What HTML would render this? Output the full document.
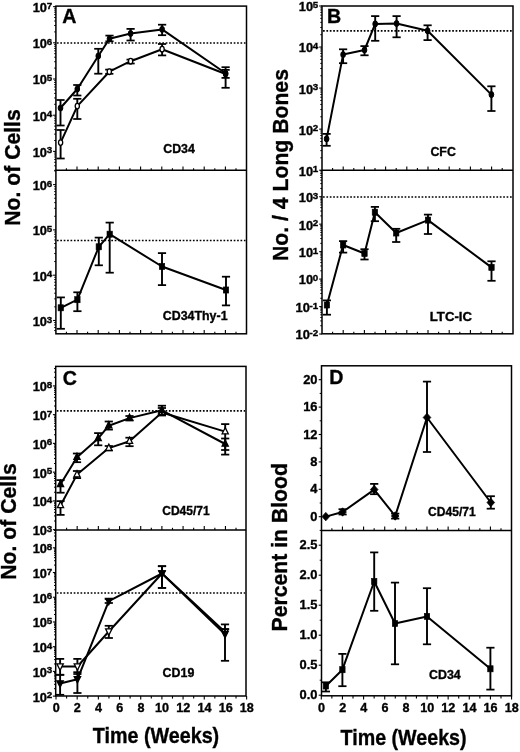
<!DOCTYPE html>
<html><head><meta charset="utf-8"><style>
html,body{margin:0;padding:0;background:#fff;overflow:hidden;}
svg{display:block;will-change:transform;}
text{font-family:"Liberation Sans", sans-serif;fill:#000;}
</style></head><body>
<svg width="520" height="752" viewBox="0 0 520 752" stroke="#000" fill="none">
<g fill="#000" stroke="#000">
<rect x="55.90" y="6.10" width="190.60" height="327.70" fill="none" stroke-width="1.5"/>
<line x1="55.90" y1="170.30" x2="246.50" y2="170.30" stroke-width="1.5" />
<line x1="66.40" y1="170.30" x2="66.40" y2="168.20" stroke-width="1.1" />
<line x1="77.00" y1="170.30" x2="77.00" y2="166.50" stroke-width="1.1" />
<line x1="87.60" y1="170.30" x2="87.60" y2="168.20" stroke-width="1.1" />
<line x1="98.20" y1="170.30" x2="98.20" y2="166.50" stroke-width="1.1" />
<line x1="108.80" y1="170.30" x2="108.80" y2="168.20" stroke-width="1.1" />
<line x1="119.40" y1="170.30" x2="119.40" y2="166.50" stroke-width="1.1" />
<line x1="130.00" y1="170.30" x2="130.00" y2="168.20" stroke-width="1.1" />
<line x1="140.60" y1="170.30" x2="140.60" y2="166.50" stroke-width="1.1" />
<line x1="151.20" y1="170.30" x2="151.20" y2="168.20" stroke-width="1.1" />
<line x1="161.80" y1="170.30" x2="161.80" y2="166.50" stroke-width="1.1" />
<line x1="172.40" y1="170.30" x2="172.40" y2="168.20" stroke-width="1.1" />
<line x1="183.00" y1="170.30" x2="183.00" y2="166.50" stroke-width="1.1" />
<line x1="193.60" y1="170.30" x2="193.60" y2="168.20" stroke-width="1.1" />
<line x1="204.20" y1="170.30" x2="204.20" y2="166.50" stroke-width="1.1" />
<line x1="214.80" y1="170.30" x2="214.80" y2="168.20" stroke-width="1.1" />
<line x1="225.40" y1="170.30" x2="225.40" y2="166.50" stroke-width="1.1" />
<line x1="236.00" y1="170.30" x2="236.00" y2="168.20" stroke-width="1.1" />
<line x1="66.40" y1="333.80" x2="66.40" y2="331.70" stroke-width="1.1" />
<line x1="77.00" y1="333.80" x2="77.00" y2="330.00" stroke-width="1.1" />
<line x1="87.60" y1="333.80" x2="87.60" y2="331.70" stroke-width="1.1" />
<line x1="98.20" y1="333.80" x2="98.20" y2="330.00" stroke-width="1.1" />
<line x1="108.80" y1="333.80" x2="108.80" y2="331.70" stroke-width="1.1" />
<line x1="119.40" y1="333.80" x2="119.40" y2="330.00" stroke-width="1.1" />
<line x1="130.00" y1="333.80" x2="130.00" y2="331.70" stroke-width="1.1" />
<line x1="140.60" y1="333.80" x2="140.60" y2="330.00" stroke-width="1.1" />
<line x1="151.20" y1="333.80" x2="151.20" y2="331.70" stroke-width="1.1" />
<line x1="161.80" y1="333.80" x2="161.80" y2="330.00" stroke-width="1.1" />
<line x1="172.40" y1="333.80" x2="172.40" y2="331.70" stroke-width="1.1" />
<line x1="183.00" y1="333.80" x2="183.00" y2="330.00" stroke-width="1.1" />
<line x1="193.60" y1="333.80" x2="193.60" y2="331.70" stroke-width="1.1" />
<line x1="204.20" y1="333.80" x2="204.20" y2="330.00" stroke-width="1.1" />
<line x1="214.80" y1="333.80" x2="214.80" y2="331.70" stroke-width="1.1" />
<line x1="225.40" y1="333.80" x2="225.40" y2="330.00" stroke-width="1.1" />
<line x1="236.00" y1="333.80" x2="236.00" y2="331.70" stroke-width="1.1" />
<line x1="54.20" y1="170.33" x2="55.90" y2="170.33" stroke-width="1.0" />
<line x1="54.20" y1="165.81" x2="55.90" y2="165.81" stroke-width="1.0" />
<line x1="54.20" y1="162.30" x2="55.90" y2="162.30" stroke-width="1.0" />
<line x1="54.20" y1="159.43" x2="55.90" y2="159.43" stroke-width="1.0" />
<line x1="54.20" y1="157.01" x2="55.90" y2="157.01" stroke-width="1.0" />
<line x1="54.20" y1="154.91" x2="55.90" y2="154.91" stroke-width="1.0" />
<line x1="54.20" y1="153.06" x2="55.90" y2="153.06" stroke-width="1.0" />
<line x1="53.10" y1="151.40" x2="55.90" y2="151.40" stroke-width="1.1" />
<line x1="54.20" y1="140.50" x2="55.90" y2="140.50" stroke-width="1.0" />
<line x1="54.20" y1="134.13" x2="55.90" y2="134.13" stroke-width="1.0" />
<line x1="54.20" y1="129.61" x2="55.90" y2="129.61" stroke-width="1.0" />
<line x1="54.20" y1="126.10" x2="55.90" y2="126.10" stroke-width="1.0" />
<line x1="54.20" y1="123.23" x2="55.90" y2="123.23" stroke-width="1.0" />
<line x1="54.20" y1="120.81" x2="55.90" y2="120.81" stroke-width="1.0" />
<line x1="54.20" y1="118.71" x2="55.90" y2="118.71" stroke-width="1.0" />
<line x1="54.20" y1="116.86" x2="55.90" y2="116.86" stroke-width="1.0" />
<line x1="53.10" y1="115.20" x2="55.90" y2="115.20" stroke-width="1.1" />
<line x1="54.20" y1="104.30" x2="55.90" y2="104.30" stroke-width="1.0" />
<line x1="54.20" y1="97.93" x2="55.90" y2="97.93" stroke-width="1.0" />
<line x1="54.20" y1="93.41" x2="55.90" y2="93.41" stroke-width="1.0" />
<line x1="54.20" y1="89.90" x2="55.90" y2="89.90" stroke-width="1.0" />
<line x1="54.20" y1="87.03" x2="55.90" y2="87.03" stroke-width="1.0" />
<line x1="54.20" y1="84.61" x2="55.90" y2="84.61" stroke-width="1.0" />
<line x1="54.20" y1="82.51" x2="55.90" y2="82.51" stroke-width="1.0" />
<line x1="54.20" y1="80.66" x2="55.90" y2="80.66" stroke-width="1.0" />
<line x1="53.10" y1="79.00" x2="55.90" y2="79.00" stroke-width="1.1" />
<line x1="54.20" y1="68.10" x2="55.90" y2="68.10" stroke-width="1.0" />
<line x1="54.20" y1="61.73" x2="55.90" y2="61.73" stroke-width="1.0" />
<line x1="54.20" y1="57.21" x2="55.90" y2="57.21" stroke-width="1.0" />
<line x1="54.20" y1="53.70" x2="55.90" y2="53.70" stroke-width="1.0" />
<line x1="54.20" y1="50.83" x2="55.90" y2="50.83" stroke-width="1.0" />
<line x1="54.20" y1="48.41" x2="55.90" y2="48.41" stroke-width="1.0" />
<line x1="54.20" y1="46.31" x2="55.90" y2="46.31" stroke-width="1.0" />
<line x1="54.20" y1="44.46" x2="55.90" y2="44.46" stroke-width="1.0" />
<line x1="53.10" y1="42.80" x2="55.90" y2="42.80" stroke-width="1.1" />
<line x1="54.20" y1="31.90" x2="55.90" y2="31.90" stroke-width="1.0" />
<line x1="54.20" y1="25.53" x2="55.90" y2="25.53" stroke-width="1.0" />
<line x1="54.20" y1="21.01" x2="55.90" y2="21.01" stroke-width="1.0" />
<line x1="54.20" y1="17.50" x2="55.90" y2="17.50" stroke-width="1.0" />
<line x1="54.20" y1="14.63" x2="55.90" y2="14.63" stroke-width="1.0" />
<line x1="54.20" y1="12.21" x2="55.90" y2="12.21" stroke-width="1.0" />
<line x1="54.20" y1="10.11" x2="55.90" y2="10.11" stroke-width="1.0" />
<line x1="54.20" y1="8.26" x2="55.90" y2="8.26" stroke-width="1.0" />
<line x1="53.10" y1="6.60" x2="55.90" y2="6.60" stroke-width="1.1" />
<line x1="54.20" y1="330.55" x2="55.90" y2="330.55" stroke-width="1.0" />
<line x1="54.20" y1="327.52" x2="55.90" y2="327.52" stroke-width="1.0" />
<line x1="54.20" y1="324.89" x2="55.90" y2="324.89" stroke-width="1.0" />
<line x1="54.20" y1="322.57" x2="55.90" y2="322.57" stroke-width="1.0" />
<line x1="53.10" y1="320.50" x2="55.90" y2="320.50" stroke-width="1.1" />
<line x1="54.20" y1="306.86" x2="55.90" y2="306.86" stroke-width="1.0" />
<line x1="54.20" y1="298.89" x2="55.90" y2="298.89" stroke-width="1.0" />
<line x1="54.20" y1="293.23" x2="55.90" y2="293.23" stroke-width="1.0" />
<line x1="54.20" y1="288.84" x2="55.90" y2="288.84" stroke-width="1.0" />
<line x1="54.20" y1="285.25" x2="55.90" y2="285.25" stroke-width="1.0" />
<line x1="54.20" y1="282.22" x2="55.90" y2="282.22" stroke-width="1.0" />
<line x1="54.20" y1="279.59" x2="55.90" y2="279.59" stroke-width="1.0" />
<line x1="54.20" y1="277.27" x2="55.90" y2="277.27" stroke-width="1.0" />
<line x1="53.10" y1="275.20" x2="55.90" y2="275.20" stroke-width="1.1" />
<line x1="54.20" y1="261.56" x2="55.90" y2="261.56" stroke-width="1.0" />
<line x1="54.20" y1="253.59" x2="55.90" y2="253.59" stroke-width="1.0" />
<line x1="54.20" y1="247.93" x2="55.90" y2="247.93" stroke-width="1.0" />
<line x1="54.20" y1="243.54" x2="55.90" y2="243.54" stroke-width="1.0" />
<line x1="54.20" y1="239.95" x2="55.90" y2="239.95" stroke-width="1.0" />
<line x1="54.20" y1="236.92" x2="55.90" y2="236.92" stroke-width="1.0" />
<line x1="54.20" y1="234.29" x2="55.90" y2="234.29" stroke-width="1.0" />
<line x1="54.20" y1="231.97" x2="55.90" y2="231.97" stroke-width="1.0" />
<line x1="53.10" y1="229.90" x2="55.90" y2="229.90" stroke-width="1.1" />
<line x1="54.20" y1="216.26" x2="55.90" y2="216.26" stroke-width="1.0" />
<line x1="54.20" y1="208.29" x2="55.90" y2="208.29" stroke-width="1.0" />
<line x1="54.20" y1="202.63" x2="55.90" y2="202.63" stroke-width="1.0" />
<line x1="54.20" y1="198.24" x2="55.90" y2="198.24" stroke-width="1.0" />
<line x1="54.20" y1="194.65" x2="55.90" y2="194.65" stroke-width="1.0" />
<line x1="54.20" y1="191.62" x2="55.90" y2="191.62" stroke-width="1.0" />
<line x1="54.20" y1="188.99" x2="55.90" y2="188.99" stroke-width="1.0" />
<line x1="54.20" y1="186.67" x2="55.90" y2="186.67" stroke-width="1.0" />
<line x1="53.10" y1="184.60" x2="55.90" y2="184.60" stroke-width="1.1" />
<line x1="54.20" y1="170.96" x2="55.90" y2="170.96" stroke-width="1.0" />
<text stroke="#000" stroke-width="0.35" x="52.20" y="153.41" font-size="9.8" text-anchor="end" font-weight="bold" >3</text>
<text stroke="#000" stroke-width="0.35" x="46.95" y="156.81" font-size="12.8" text-anchor="end" font-weight="bold" >10</text>
<text stroke="#000" stroke-width="0.35" x="52.20" y="117.21" font-size="9.8" text-anchor="end" font-weight="bold" >4</text>
<text stroke="#000" stroke-width="0.35" x="46.95" y="120.61" font-size="12.8" text-anchor="end" font-weight="bold" >10</text>
<text stroke="#000" stroke-width="0.35" x="52.20" y="81.01" font-size="9.8" text-anchor="end" font-weight="bold" >5</text>
<text stroke="#000" stroke-width="0.35" x="46.95" y="84.41" font-size="12.8" text-anchor="end" font-weight="bold" >10</text>
<text stroke="#000" stroke-width="0.35" x="52.20" y="44.81" font-size="9.8" text-anchor="end" font-weight="bold" >6</text>
<text stroke="#000" stroke-width="0.35" x="46.95" y="48.21" font-size="12.8" text-anchor="end" font-weight="bold" >10</text>
<text stroke="#000" stroke-width="0.35" x="52.20" y="8.61" font-size="9.8" text-anchor="end" font-weight="bold" >7</text>
<text stroke="#000" stroke-width="0.35" x="46.95" y="12.01" font-size="12.8" text-anchor="end" font-weight="bold" >10</text>
<text stroke="#000" stroke-width="0.35" x="52.20" y="322.51" font-size="9.8" text-anchor="end" font-weight="bold" >3</text>
<text stroke="#000" stroke-width="0.35" x="46.95" y="325.91" font-size="12.8" text-anchor="end" font-weight="bold" >10</text>
<text stroke="#000" stroke-width="0.35" x="52.20" y="277.21" font-size="9.8" text-anchor="end" font-weight="bold" >4</text>
<text stroke="#000" stroke-width="0.35" x="46.95" y="280.61" font-size="12.8" text-anchor="end" font-weight="bold" >10</text>
<text stroke="#000" stroke-width="0.35" x="52.20" y="231.91" font-size="9.8" text-anchor="end" font-weight="bold" >5</text>
<text stroke="#000" stroke-width="0.35" x="46.95" y="235.31" font-size="12.8" text-anchor="end" font-weight="bold" >10</text>
<text stroke="#000" stroke-width="0.35" x="52.20" y="186.61" font-size="9.8" text-anchor="end" font-weight="bold" >6</text>
<text stroke="#000" stroke-width="0.35" x="46.95" y="190.01" font-size="12.8" text-anchor="end" font-weight="bold" >10</text>
<line x1="56.90" y1="43.00" x2="245.50" y2="43.00" stroke-width="1.7" stroke-dasharray="1.7 1.7"/>
<line x1="56.90" y1="240.50" x2="245.50" y2="240.50" stroke-width="1.7" stroke-dasharray="1.7 1.7"/>
<rect x="322.00" y="6.00" width="191.00" height="327.80" fill="none" stroke-width="1.5"/>
<line x1="322.00" y1="170.20" x2="513.00" y2="170.20" stroke-width="1.5" />
<line x1="332.60" y1="170.20" x2="332.60" y2="168.10" stroke-width="1.1" />
<line x1="343.20" y1="170.20" x2="343.20" y2="166.40" stroke-width="1.1" />
<line x1="353.80" y1="170.20" x2="353.80" y2="168.10" stroke-width="1.1" />
<line x1="364.40" y1="170.20" x2="364.40" y2="166.40" stroke-width="1.1" />
<line x1="375.00" y1="170.20" x2="375.00" y2="168.10" stroke-width="1.1" />
<line x1="385.60" y1="170.20" x2="385.60" y2="166.40" stroke-width="1.1" />
<line x1="396.20" y1="170.20" x2="396.20" y2="168.10" stroke-width="1.1" />
<line x1="406.80" y1="170.20" x2="406.80" y2="166.40" stroke-width="1.1" />
<line x1="417.40" y1="170.20" x2="417.40" y2="168.10" stroke-width="1.1" />
<line x1="428.00" y1="170.20" x2="428.00" y2="166.40" stroke-width="1.1" />
<line x1="438.60" y1="170.20" x2="438.60" y2="168.10" stroke-width="1.1" />
<line x1="449.20" y1="170.20" x2="449.20" y2="166.40" stroke-width="1.1" />
<line x1="459.80" y1="170.20" x2="459.80" y2="168.10" stroke-width="1.1" />
<line x1="470.40" y1="170.20" x2="470.40" y2="166.40" stroke-width="1.1" />
<line x1="481.00" y1="170.20" x2="481.00" y2="168.10" stroke-width="1.1" />
<line x1="491.60" y1="170.20" x2="491.60" y2="166.40" stroke-width="1.1" />
<line x1="502.20" y1="170.20" x2="502.20" y2="168.10" stroke-width="1.1" />
<line x1="332.60" y1="333.80" x2="332.60" y2="331.70" stroke-width="1.1" />
<line x1="343.20" y1="333.80" x2="343.20" y2="330.00" stroke-width="1.1" />
<line x1="353.80" y1="333.80" x2="353.80" y2="331.70" stroke-width="1.1" />
<line x1="364.40" y1="333.80" x2="364.40" y2="330.00" stroke-width="1.1" />
<line x1="375.00" y1="333.80" x2="375.00" y2="331.70" stroke-width="1.1" />
<line x1="385.60" y1="333.80" x2="385.60" y2="330.00" stroke-width="1.1" />
<line x1="396.20" y1="333.80" x2="396.20" y2="331.70" stroke-width="1.1" />
<line x1="406.80" y1="333.80" x2="406.80" y2="330.00" stroke-width="1.1" />
<line x1="417.40" y1="333.80" x2="417.40" y2="331.70" stroke-width="1.1" />
<line x1="428.00" y1="333.80" x2="428.00" y2="330.00" stroke-width="1.1" />
<line x1="438.60" y1="333.80" x2="438.60" y2="331.70" stroke-width="1.1" />
<line x1="449.20" y1="333.80" x2="449.20" y2="330.00" stroke-width="1.1" />
<line x1="459.80" y1="333.80" x2="459.80" y2="331.70" stroke-width="1.1" />
<line x1="470.40" y1="333.80" x2="470.40" y2="330.00" stroke-width="1.1" />
<line x1="481.00" y1="333.80" x2="481.00" y2="331.70" stroke-width="1.1" />
<line x1="491.60" y1="333.80" x2="491.60" y2="330.00" stroke-width="1.1" />
<line x1="502.20" y1="333.80" x2="502.20" y2="331.70" stroke-width="1.1" />
<line x1="319.20" y1="170.20" x2="322.00" y2="170.20" stroke-width="1.1" />
<line x1="320.30" y1="157.84" x2="322.00" y2="157.84" stroke-width="1.0" />
<line x1="320.30" y1="150.61" x2="322.00" y2="150.61" stroke-width="1.0" />
<line x1="320.30" y1="145.49" x2="322.00" y2="145.49" stroke-width="1.0" />
<line x1="320.30" y1="141.51" x2="322.00" y2="141.51" stroke-width="1.0" />
<line x1="320.30" y1="138.26" x2="322.00" y2="138.26" stroke-width="1.0" />
<line x1="320.30" y1="135.51" x2="322.00" y2="135.51" stroke-width="1.0" />
<line x1="320.30" y1="133.13" x2="322.00" y2="133.13" stroke-width="1.0" />
<line x1="320.30" y1="131.03" x2="322.00" y2="131.03" stroke-width="1.0" />
<line x1="319.20" y1="129.15" x2="322.00" y2="129.15" stroke-width="1.1" />
<line x1="320.30" y1="116.79" x2="322.00" y2="116.79" stroke-width="1.0" />
<line x1="320.30" y1="109.56" x2="322.00" y2="109.56" stroke-width="1.0" />
<line x1="320.30" y1="104.44" x2="322.00" y2="104.44" stroke-width="1.0" />
<line x1="320.30" y1="100.46" x2="322.00" y2="100.46" stroke-width="1.0" />
<line x1="320.30" y1="97.21" x2="322.00" y2="97.21" stroke-width="1.0" />
<line x1="320.30" y1="94.46" x2="322.00" y2="94.46" stroke-width="1.0" />
<line x1="320.30" y1="92.08" x2="322.00" y2="92.08" stroke-width="1.0" />
<line x1="320.30" y1="89.98" x2="322.00" y2="89.98" stroke-width="1.0" />
<line x1="319.20" y1="88.10" x2="322.00" y2="88.10" stroke-width="1.1" />
<line x1="320.30" y1="75.74" x2="322.00" y2="75.74" stroke-width="1.0" />
<line x1="320.30" y1="68.51" x2="322.00" y2="68.51" stroke-width="1.0" />
<line x1="320.30" y1="63.39" x2="322.00" y2="63.39" stroke-width="1.0" />
<line x1="320.30" y1="59.41" x2="322.00" y2="59.41" stroke-width="1.0" />
<line x1="320.30" y1="56.16" x2="322.00" y2="56.16" stroke-width="1.0" />
<line x1="320.30" y1="53.41" x2="322.00" y2="53.41" stroke-width="1.0" />
<line x1="320.30" y1="51.03" x2="322.00" y2="51.03" stroke-width="1.0" />
<line x1="320.30" y1="48.93" x2="322.00" y2="48.93" stroke-width="1.0" />
<line x1="319.20" y1="47.05" x2="322.00" y2="47.05" stroke-width="1.1" />
<line x1="320.30" y1="34.69" x2="322.00" y2="34.69" stroke-width="1.0" />
<line x1="320.30" y1="27.46" x2="322.00" y2="27.46" stroke-width="1.0" />
<line x1="320.30" y1="22.34" x2="322.00" y2="22.34" stroke-width="1.0" />
<line x1="320.30" y1="18.36" x2="322.00" y2="18.36" stroke-width="1.0" />
<line x1="320.30" y1="15.11" x2="322.00" y2="15.11" stroke-width="1.0" />
<line x1="320.30" y1="12.36" x2="322.00" y2="12.36" stroke-width="1.0" />
<line x1="320.30" y1="9.98" x2="322.00" y2="9.98" stroke-width="1.0" />
<line x1="320.30" y1="7.88" x2="322.00" y2="7.88" stroke-width="1.0" />
<line x1="319.20" y1="6.00" x2="322.00" y2="6.00" stroke-width="1.1" />
<line x1="319.20" y1="334.00" x2="322.00" y2="334.00" stroke-width="1.1" />
<line x1="320.30" y1="325.73" x2="322.00" y2="325.73" stroke-width="1.0" />
<line x1="320.30" y1="320.90" x2="322.00" y2="320.90" stroke-width="1.0" />
<line x1="320.30" y1="317.47" x2="322.00" y2="317.47" stroke-width="1.0" />
<line x1="320.30" y1="314.81" x2="322.00" y2="314.81" stroke-width="1.0" />
<line x1="320.30" y1="312.63" x2="322.00" y2="312.63" stroke-width="1.0" />
<line x1="320.30" y1="310.79" x2="322.00" y2="310.79" stroke-width="1.0" />
<line x1="320.30" y1="309.20" x2="322.00" y2="309.20" stroke-width="1.0" />
<line x1="320.30" y1="307.80" x2="322.00" y2="307.80" stroke-width="1.0" />
<line x1="319.20" y1="306.54" x2="322.00" y2="306.54" stroke-width="1.1" />
<line x1="320.30" y1="298.27" x2="322.00" y2="298.27" stroke-width="1.0" />
<line x1="320.30" y1="293.44" x2="322.00" y2="293.44" stroke-width="1.0" />
<line x1="320.30" y1="290.01" x2="322.00" y2="290.01" stroke-width="1.0" />
<line x1="320.30" y1="287.35" x2="322.00" y2="287.35" stroke-width="1.0" />
<line x1="320.30" y1="285.17" x2="322.00" y2="285.17" stroke-width="1.0" />
<line x1="320.30" y1="283.33" x2="322.00" y2="283.33" stroke-width="1.0" />
<line x1="320.30" y1="281.74" x2="322.00" y2="281.74" stroke-width="1.0" />
<line x1="320.30" y1="280.34" x2="322.00" y2="280.34" stroke-width="1.0" />
<line x1="319.20" y1="279.08" x2="322.00" y2="279.08" stroke-width="1.1" />
<line x1="320.30" y1="270.81" x2="322.00" y2="270.81" stroke-width="1.0" />
<line x1="320.30" y1="265.98" x2="322.00" y2="265.98" stroke-width="1.0" />
<line x1="320.30" y1="262.55" x2="322.00" y2="262.55" stroke-width="1.0" />
<line x1="320.30" y1="259.89" x2="322.00" y2="259.89" stroke-width="1.0" />
<line x1="320.30" y1="257.71" x2="322.00" y2="257.71" stroke-width="1.0" />
<line x1="320.30" y1="255.87" x2="322.00" y2="255.87" stroke-width="1.0" />
<line x1="320.30" y1="254.28" x2="322.00" y2="254.28" stroke-width="1.0" />
<line x1="320.30" y1="252.88" x2="322.00" y2="252.88" stroke-width="1.0" />
<line x1="319.20" y1="251.62" x2="322.00" y2="251.62" stroke-width="1.1" />
<line x1="320.30" y1="243.35" x2="322.00" y2="243.35" stroke-width="1.0" />
<line x1="320.30" y1="238.52" x2="322.00" y2="238.52" stroke-width="1.0" />
<line x1="320.30" y1="235.09" x2="322.00" y2="235.09" stroke-width="1.0" />
<line x1="320.30" y1="232.43" x2="322.00" y2="232.43" stroke-width="1.0" />
<line x1="320.30" y1="230.25" x2="322.00" y2="230.25" stroke-width="1.0" />
<line x1="320.30" y1="228.41" x2="322.00" y2="228.41" stroke-width="1.0" />
<line x1="320.30" y1="226.82" x2="322.00" y2="226.82" stroke-width="1.0" />
<line x1="320.30" y1="225.42" x2="322.00" y2="225.42" stroke-width="1.0" />
<line x1="319.20" y1="224.16" x2="322.00" y2="224.16" stroke-width="1.1" />
<line x1="320.30" y1="215.89" x2="322.00" y2="215.89" stroke-width="1.0" />
<line x1="320.30" y1="211.06" x2="322.00" y2="211.06" stroke-width="1.0" />
<line x1="320.30" y1="207.63" x2="322.00" y2="207.63" stroke-width="1.0" />
<line x1="320.30" y1="204.97" x2="322.00" y2="204.97" stroke-width="1.0" />
<line x1="320.30" y1="202.79" x2="322.00" y2="202.79" stroke-width="1.0" />
<line x1="320.30" y1="200.95" x2="322.00" y2="200.95" stroke-width="1.0" />
<line x1="320.30" y1="199.36" x2="322.00" y2="199.36" stroke-width="1.0" />
<line x1="320.30" y1="197.96" x2="322.00" y2="197.96" stroke-width="1.0" />
<line x1="319.20" y1="196.70" x2="322.00" y2="196.70" stroke-width="1.1" />
<line x1="320.30" y1="188.43" x2="322.00" y2="188.43" stroke-width="1.0" />
<line x1="320.30" y1="183.60" x2="322.00" y2="183.60" stroke-width="1.0" />
<line x1="320.30" y1="180.17" x2="322.00" y2="180.17" stroke-width="1.0" />
<line x1="320.30" y1="177.51" x2="322.00" y2="177.51" stroke-width="1.0" />
<line x1="320.30" y1="175.33" x2="322.00" y2="175.33" stroke-width="1.0" />
<line x1="320.30" y1="173.49" x2="322.00" y2="173.49" stroke-width="1.0" />
<line x1="320.30" y1="171.90" x2="322.00" y2="171.90" stroke-width="1.0" />
<line x1="320.30" y1="170.50" x2="322.00" y2="170.50" stroke-width="1.0" />
<text stroke="#000" stroke-width="0.35" x="318.30" y="172.21" font-size="9.8" text-anchor="end" font-weight="bold" >1</text>
<text stroke="#000" stroke-width="0.35" x="313.05" y="175.61" font-size="12.8" text-anchor="end" font-weight="bold" >10</text>
<text stroke="#000" stroke-width="0.35" x="318.30" y="131.16" font-size="9.8" text-anchor="end" font-weight="bold" >2</text>
<text stroke="#000" stroke-width="0.35" x="313.05" y="134.56" font-size="12.8" text-anchor="end" font-weight="bold" >10</text>
<text stroke="#000" stroke-width="0.35" x="318.30" y="90.11" font-size="9.8" text-anchor="end" font-weight="bold" >3</text>
<text stroke="#000" stroke-width="0.35" x="313.05" y="93.51" font-size="12.8" text-anchor="end" font-weight="bold" >10</text>
<text stroke="#000" stroke-width="0.35" x="318.30" y="49.06" font-size="9.8" text-anchor="end" font-weight="bold" >4</text>
<text stroke="#000" stroke-width="0.35" x="313.05" y="52.46" font-size="12.8" text-anchor="end" font-weight="bold" >10</text>
<text stroke="#000" stroke-width="0.35" x="318.30" y="8.01" font-size="9.8" text-anchor="end" font-weight="bold" >5</text>
<text stroke="#000" stroke-width="0.35" x="313.05" y="11.41" font-size="12.8" text-anchor="end" font-weight="bold" >10</text>
<text stroke="#000" stroke-width="0.35" x="318.30" y="336.01" font-size="9.8" text-anchor="end" font-weight="bold" >-2</text>
<text stroke="#000" stroke-width="0.35" x="309.79" y="339.41" font-size="12.8" text-anchor="end" font-weight="bold" >10</text>
<text stroke="#000" stroke-width="0.35" x="318.30" y="308.55" font-size="9.8" text-anchor="end" font-weight="bold" >-1</text>
<text stroke="#000" stroke-width="0.35" x="309.79" y="311.95" font-size="12.8" text-anchor="end" font-weight="bold" >10</text>
<text stroke="#000" stroke-width="0.35" x="318.30" y="281.09" font-size="9.8" text-anchor="end" font-weight="bold" >0</text>
<text stroke="#000" stroke-width="0.35" x="313.05" y="284.49" font-size="12.8" text-anchor="end" font-weight="bold" >10</text>
<text stroke="#000" stroke-width="0.35" x="318.30" y="253.63" font-size="9.8" text-anchor="end" font-weight="bold" >1</text>
<text stroke="#000" stroke-width="0.35" x="313.05" y="257.03" font-size="12.8" text-anchor="end" font-weight="bold" >10</text>
<text stroke="#000" stroke-width="0.35" x="318.30" y="226.17" font-size="9.8" text-anchor="end" font-weight="bold" >2</text>
<text stroke="#000" stroke-width="0.35" x="313.05" y="229.57" font-size="12.8" text-anchor="end" font-weight="bold" >10</text>
<text stroke="#000" stroke-width="0.35" x="318.30" y="198.71" font-size="9.8" text-anchor="end" font-weight="bold" >3</text>
<text stroke="#000" stroke-width="0.35" x="313.05" y="202.11" font-size="12.8" text-anchor="end" font-weight="bold" >10</text>
<line x1="323.00" y1="30.90" x2="512.00" y2="30.90" stroke-width="1.7" stroke-dasharray="1.7 1.7"/>
<line x1="323.00" y1="197.00" x2="512.00" y2="197.00" stroke-width="1.7" stroke-dasharray="1.7 1.7"/>
<rect x="55.70" y="366.40" width="190.30" height="329.60" fill="none" stroke-width="1.5"/>
<line x1="55.70" y1="529.90" x2="246.00" y2="529.90" stroke-width="1.5" />
<line x1="66.59" y1="529.90" x2="66.59" y2="527.80" stroke-width="1.1" />
<line x1="77.18" y1="529.90" x2="77.18" y2="526.10" stroke-width="1.1" />
<line x1="87.77" y1="529.90" x2="87.77" y2="527.80" stroke-width="1.1" />
<line x1="98.36" y1="529.90" x2="98.36" y2="526.10" stroke-width="1.1" />
<line x1="108.95" y1="529.90" x2="108.95" y2="527.80" stroke-width="1.1" />
<line x1="119.54" y1="529.90" x2="119.54" y2="526.10" stroke-width="1.1" />
<line x1="130.13" y1="529.90" x2="130.13" y2="527.80" stroke-width="1.1" />
<line x1="140.72" y1="529.90" x2="140.72" y2="526.10" stroke-width="1.1" />
<line x1="151.31" y1="529.90" x2="151.31" y2="527.80" stroke-width="1.1" />
<line x1="161.90" y1="529.90" x2="161.90" y2="526.10" stroke-width="1.1" />
<line x1="172.49" y1="529.90" x2="172.49" y2="527.80" stroke-width="1.1" />
<line x1="183.08" y1="529.90" x2="183.08" y2="526.10" stroke-width="1.1" />
<line x1="193.67" y1="529.90" x2="193.67" y2="527.80" stroke-width="1.1" />
<line x1="204.26" y1="529.90" x2="204.26" y2="526.10" stroke-width="1.1" />
<line x1="214.85" y1="529.90" x2="214.85" y2="527.80" stroke-width="1.1" />
<line x1="225.44" y1="529.90" x2="225.44" y2="526.10" stroke-width="1.1" />
<line x1="236.03" y1="529.90" x2="236.03" y2="527.80" stroke-width="1.1" />
<line x1="56.00" y1="696.00" x2="56.00" y2="699.60" stroke-width="1.1" />
<line x1="66.59" y1="696.00" x2="66.59" y2="698.60" stroke-width="1.1" />
<line x1="77.18" y1="696.00" x2="77.18" y2="699.60" stroke-width="1.1" />
<line x1="87.77" y1="696.00" x2="87.77" y2="698.60" stroke-width="1.1" />
<line x1="98.36" y1="696.00" x2="98.36" y2="699.60" stroke-width="1.1" />
<line x1="108.95" y1="696.00" x2="108.95" y2="698.60" stroke-width="1.1" />
<line x1="119.54" y1="696.00" x2="119.54" y2="699.60" stroke-width="1.1" />
<line x1="130.13" y1="696.00" x2="130.13" y2="698.60" stroke-width="1.1" />
<line x1="140.72" y1="696.00" x2="140.72" y2="699.60" stroke-width="1.1" />
<line x1="151.31" y1="696.00" x2="151.31" y2="698.60" stroke-width="1.1" />
<line x1="161.90" y1="696.00" x2="161.90" y2="699.60" stroke-width="1.1" />
<line x1="172.49" y1="696.00" x2="172.49" y2="698.60" stroke-width="1.1" />
<line x1="183.08" y1="696.00" x2="183.08" y2="699.60" stroke-width="1.1" />
<line x1="193.67" y1="696.00" x2="193.67" y2="698.60" stroke-width="1.1" />
<line x1="204.26" y1="696.00" x2="204.26" y2="699.60" stroke-width="1.1" />
<line x1="214.85" y1="696.00" x2="214.85" y2="698.60" stroke-width="1.1" />
<line x1="225.44" y1="696.00" x2="225.44" y2="699.60" stroke-width="1.1" />
<line x1="236.03" y1="696.00" x2="236.03" y2="698.60" stroke-width="1.1" />
<line x1="246.62" y1="696.00" x2="246.62" y2="699.60" stroke-width="1.1" />
<line x1="52.90" y1="529.65" x2="55.70" y2="529.65" stroke-width="1.1" />
<line x1="54.00" y1="521.00" x2="55.70" y2="521.00" stroke-width="1.0" />
<line x1="54.00" y1="515.93" x2="55.70" y2="515.93" stroke-width="1.0" />
<line x1="54.00" y1="512.34" x2="55.70" y2="512.34" stroke-width="1.0" />
<line x1="54.00" y1="509.55" x2="55.70" y2="509.55" stroke-width="1.0" />
<line x1="54.00" y1="507.28" x2="55.70" y2="507.28" stroke-width="1.0" />
<line x1="54.00" y1="505.35" x2="55.70" y2="505.35" stroke-width="1.0" />
<line x1="54.00" y1="503.69" x2="55.70" y2="503.69" stroke-width="1.0" />
<line x1="54.00" y1="502.22" x2="55.70" y2="502.22" stroke-width="1.0" />
<line x1="52.90" y1="500.90" x2="55.70" y2="500.90" stroke-width="1.1" />
<line x1="54.00" y1="492.25" x2="55.70" y2="492.25" stroke-width="1.0" />
<line x1="54.00" y1="487.18" x2="55.70" y2="487.18" stroke-width="1.0" />
<line x1="54.00" y1="483.59" x2="55.70" y2="483.59" stroke-width="1.0" />
<line x1="54.00" y1="480.80" x2="55.70" y2="480.80" stroke-width="1.0" />
<line x1="54.00" y1="478.53" x2="55.70" y2="478.53" stroke-width="1.0" />
<line x1="54.00" y1="476.60" x2="55.70" y2="476.60" stroke-width="1.0" />
<line x1="54.00" y1="474.94" x2="55.70" y2="474.94" stroke-width="1.0" />
<line x1="54.00" y1="473.47" x2="55.70" y2="473.47" stroke-width="1.0" />
<line x1="52.90" y1="472.15" x2="55.70" y2="472.15" stroke-width="1.1" />
<line x1="54.00" y1="463.50" x2="55.70" y2="463.50" stroke-width="1.0" />
<line x1="54.00" y1="458.43" x2="55.70" y2="458.43" stroke-width="1.0" />
<line x1="54.00" y1="454.84" x2="55.70" y2="454.84" stroke-width="1.0" />
<line x1="54.00" y1="452.05" x2="55.70" y2="452.05" stroke-width="1.0" />
<line x1="54.00" y1="449.78" x2="55.70" y2="449.78" stroke-width="1.0" />
<line x1="54.00" y1="447.85" x2="55.70" y2="447.85" stroke-width="1.0" />
<line x1="54.00" y1="446.19" x2="55.70" y2="446.19" stroke-width="1.0" />
<line x1="54.00" y1="444.72" x2="55.70" y2="444.72" stroke-width="1.0" />
<line x1="52.90" y1="443.40" x2="55.70" y2="443.40" stroke-width="1.1" />
<line x1="54.00" y1="434.75" x2="55.70" y2="434.75" stroke-width="1.0" />
<line x1="54.00" y1="429.68" x2="55.70" y2="429.68" stroke-width="1.0" />
<line x1="54.00" y1="426.09" x2="55.70" y2="426.09" stroke-width="1.0" />
<line x1="54.00" y1="423.30" x2="55.70" y2="423.30" stroke-width="1.0" />
<line x1="54.00" y1="421.03" x2="55.70" y2="421.03" stroke-width="1.0" />
<line x1="54.00" y1="419.10" x2="55.70" y2="419.10" stroke-width="1.0" />
<line x1="54.00" y1="417.44" x2="55.70" y2="417.44" stroke-width="1.0" />
<line x1="54.00" y1="415.97" x2="55.70" y2="415.97" stroke-width="1.0" />
<line x1="52.90" y1="414.65" x2="55.70" y2="414.65" stroke-width="1.1" />
<line x1="54.00" y1="406.00" x2="55.70" y2="406.00" stroke-width="1.0" />
<line x1="54.00" y1="400.93" x2="55.70" y2="400.93" stroke-width="1.0" />
<line x1="54.00" y1="397.34" x2="55.70" y2="397.34" stroke-width="1.0" />
<line x1="54.00" y1="394.55" x2="55.70" y2="394.55" stroke-width="1.0" />
<line x1="54.00" y1="392.28" x2="55.70" y2="392.28" stroke-width="1.0" />
<line x1="54.00" y1="390.35" x2="55.70" y2="390.35" stroke-width="1.0" />
<line x1="54.00" y1="388.69" x2="55.70" y2="388.69" stroke-width="1.0" />
<line x1="54.00" y1="387.22" x2="55.70" y2="387.22" stroke-width="1.0" />
<line x1="52.90" y1="385.90" x2="55.70" y2="385.90" stroke-width="1.1" />
<line x1="54.00" y1="377.25" x2="55.70" y2="377.25" stroke-width="1.0" />
<line x1="54.00" y1="372.18" x2="55.70" y2="372.18" stroke-width="1.0" />
<line x1="54.00" y1="368.59" x2="55.70" y2="368.59" stroke-width="1.0" />
<line x1="52.90" y1="696.12" x2="55.70" y2="696.12" stroke-width="1.1" />
<line x1="54.00" y1="688.68" x2="55.70" y2="688.68" stroke-width="1.0" />
<line x1="54.00" y1="684.33" x2="55.70" y2="684.33" stroke-width="1.0" />
<line x1="54.00" y1="681.24" x2="55.70" y2="681.24" stroke-width="1.0" />
<line x1="54.00" y1="678.84" x2="55.70" y2="678.84" stroke-width="1.0" />
<line x1="54.00" y1="676.88" x2="55.70" y2="676.88" stroke-width="1.0" />
<line x1="54.00" y1="675.23" x2="55.70" y2="675.23" stroke-width="1.0" />
<line x1="54.00" y1="673.80" x2="55.70" y2="673.80" stroke-width="1.0" />
<line x1="54.00" y1="672.53" x2="55.70" y2="672.53" stroke-width="1.0" />
<line x1="52.90" y1="671.40" x2="55.70" y2="671.40" stroke-width="1.1" />
<line x1="54.00" y1="663.96" x2="55.70" y2="663.96" stroke-width="1.0" />
<line x1="54.00" y1="659.61" x2="55.70" y2="659.61" stroke-width="1.0" />
<line x1="54.00" y1="656.52" x2="55.70" y2="656.52" stroke-width="1.0" />
<line x1="54.00" y1="654.12" x2="55.70" y2="654.12" stroke-width="1.0" />
<line x1="54.00" y1="652.16" x2="55.70" y2="652.16" stroke-width="1.0" />
<line x1="54.00" y1="650.51" x2="55.70" y2="650.51" stroke-width="1.0" />
<line x1="54.00" y1="649.08" x2="55.70" y2="649.08" stroke-width="1.0" />
<line x1="54.00" y1="647.81" x2="55.70" y2="647.81" stroke-width="1.0" />
<line x1="52.90" y1="646.68" x2="55.70" y2="646.68" stroke-width="1.1" />
<line x1="54.00" y1="639.24" x2="55.70" y2="639.24" stroke-width="1.0" />
<line x1="54.00" y1="634.89" x2="55.70" y2="634.89" stroke-width="1.0" />
<line x1="54.00" y1="631.80" x2="55.70" y2="631.80" stroke-width="1.0" />
<line x1="54.00" y1="629.40" x2="55.70" y2="629.40" stroke-width="1.0" />
<line x1="54.00" y1="627.44" x2="55.70" y2="627.44" stroke-width="1.0" />
<line x1="54.00" y1="625.79" x2="55.70" y2="625.79" stroke-width="1.0" />
<line x1="54.00" y1="624.36" x2="55.70" y2="624.36" stroke-width="1.0" />
<line x1="54.00" y1="623.09" x2="55.70" y2="623.09" stroke-width="1.0" />
<line x1="52.90" y1="621.96" x2="55.70" y2="621.96" stroke-width="1.1" />
<line x1="54.00" y1="614.52" x2="55.70" y2="614.52" stroke-width="1.0" />
<line x1="54.00" y1="610.17" x2="55.70" y2="610.17" stroke-width="1.0" />
<line x1="54.00" y1="607.08" x2="55.70" y2="607.08" stroke-width="1.0" />
<line x1="54.00" y1="604.68" x2="55.70" y2="604.68" stroke-width="1.0" />
<line x1="54.00" y1="602.72" x2="55.70" y2="602.72" stroke-width="1.0" />
<line x1="54.00" y1="601.07" x2="55.70" y2="601.07" stroke-width="1.0" />
<line x1="54.00" y1="599.64" x2="55.70" y2="599.64" stroke-width="1.0" />
<line x1="54.00" y1="598.37" x2="55.70" y2="598.37" stroke-width="1.0" />
<line x1="52.90" y1="597.24" x2="55.70" y2="597.24" stroke-width="1.1" />
<line x1="54.00" y1="589.80" x2="55.70" y2="589.80" stroke-width="1.0" />
<line x1="54.00" y1="585.45" x2="55.70" y2="585.45" stroke-width="1.0" />
<line x1="54.00" y1="582.36" x2="55.70" y2="582.36" stroke-width="1.0" />
<line x1="54.00" y1="579.96" x2="55.70" y2="579.96" stroke-width="1.0" />
<line x1="54.00" y1="578.00" x2="55.70" y2="578.00" stroke-width="1.0" />
<line x1="54.00" y1="576.35" x2="55.70" y2="576.35" stroke-width="1.0" />
<line x1="54.00" y1="574.92" x2="55.70" y2="574.92" stroke-width="1.0" />
<line x1="54.00" y1="573.65" x2="55.70" y2="573.65" stroke-width="1.0" />
<line x1="52.90" y1="572.52" x2="55.70" y2="572.52" stroke-width="1.1" />
<line x1="54.00" y1="565.08" x2="55.70" y2="565.08" stroke-width="1.0" />
<line x1="54.00" y1="560.73" x2="55.70" y2="560.73" stroke-width="1.0" />
<line x1="54.00" y1="557.64" x2="55.70" y2="557.64" stroke-width="1.0" />
<line x1="54.00" y1="555.24" x2="55.70" y2="555.24" stroke-width="1.0" />
<line x1="54.00" y1="553.28" x2="55.70" y2="553.28" stroke-width="1.0" />
<line x1="54.00" y1="551.63" x2="55.70" y2="551.63" stroke-width="1.0" />
<line x1="54.00" y1="550.20" x2="55.70" y2="550.20" stroke-width="1.0" />
<line x1="54.00" y1="548.93" x2="55.70" y2="548.93" stroke-width="1.0" />
<line x1="52.90" y1="547.80" x2="55.70" y2="547.80" stroke-width="1.1" />
<line x1="54.00" y1="540.36" x2="55.70" y2="540.36" stroke-width="1.0" />
<line x1="54.00" y1="536.01" x2="55.70" y2="536.01" stroke-width="1.0" />
<line x1="54.00" y1="532.92" x2="55.70" y2="532.92" stroke-width="1.0" />
<line x1="54.00" y1="530.52" x2="55.70" y2="530.52" stroke-width="1.0" />
<text stroke="#000" stroke-width="0.35" x="52.20" y="531.66" font-size="9.8" text-anchor="end" font-weight="bold" >3</text>
<text stroke="#000" stroke-width="0.35" x="46.95" y="535.06" font-size="12.8" text-anchor="end" font-weight="bold" >10</text>
<text stroke="#000" stroke-width="0.35" x="52.20" y="502.91" font-size="9.8" text-anchor="end" font-weight="bold" >4</text>
<text stroke="#000" stroke-width="0.35" x="46.95" y="506.31" font-size="12.8" text-anchor="end" font-weight="bold" >10</text>
<text stroke="#000" stroke-width="0.35" x="52.20" y="474.16" font-size="9.8" text-anchor="end" font-weight="bold" >5</text>
<text stroke="#000" stroke-width="0.35" x="46.95" y="477.56" font-size="12.8" text-anchor="end" font-weight="bold" >10</text>
<text stroke="#000" stroke-width="0.35" x="52.20" y="445.41" font-size="9.8" text-anchor="end" font-weight="bold" >6</text>
<text stroke="#000" stroke-width="0.35" x="46.95" y="448.81" font-size="12.8" text-anchor="end" font-weight="bold" >10</text>
<text stroke="#000" stroke-width="0.35" x="52.20" y="416.66" font-size="9.8" text-anchor="end" font-weight="bold" >7</text>
<text stroke="#000" stroke-width="0.35" x="46.95" y="420.06" font-size="12.8" text-anchor="end" font-weight="bold" >10</text>
<text stroke="#000" stroke-width="0.35" x="52.20" y="387.91" font-size="9.8" text-anchor="end" font-weight="bold" >8</text>
<text stroke="#000" stroke-width="0.35" x="46.95" y="391.31" font-size="12.8" text-anchor="end" font-weight="bold" >10</text>
<text stroke="#000" stroke-width="0.35" x="52.20" y="698.13" font-size="9.8" text-anchor="end" font-weight="bold" >2</text>
<text stroke="#000" stroke-width="0.35" x="46.95" y="701.53" font-size="12.8" text-anchor="end" font-weight="bold" >10</text>
<text stroke="#000" stroke-width="0.35" x="52.20" y="673.41" font-size="9.8" text-anchor="end" font-weight="bold" >3</text>
<text stroke="#000" stroke-width="0.35" x="46.95" y="676.81" font-size="12.8" text-anchor="end" font-weight="bold" >10</text>
<text stroke="#000" stroke-width="0.35" x="52.20" y="648.69" font-size="9.8" text-anchor="end" font-weight="bold" >4</text>
<text stroke="#000" stroke-width="0.35" x="46.95" y="652.09" font-size="12.8" text-anchor="end" font-weight="bold" >10</text>
<text stroke="#000" stroke-width="0.35" x="52.20" y="623.97" font-size="9.8" text-anchor="end" font-weight="bold" >5</text>
<text stroke="#000" stroke-width="0.35" x="46.95" y="627.37" font-size="12.8" text-anchor="end" font-weight="bold" >10</text>
<text stroke="#000" stroke-width="0.35" x="52.20" y="599.25" font-size="9.8" text-anchor="end" font-weight="bold" >6</text>
<text stroke="#000" stroke-width="0.35" x="46.95" y="602.65" font-size="12.8" text-anchor="end" font-weight="bold" >10</text>
<text stroke="#000" stroke-width="0.35" x="52.20" y="574.53" font-size="9.8" text-anchor="end" font-weight="bold" >7</text>
<text stroke="#000" stroke-width="0.35" x="46.95" y="577.93" font-size="12.8" text-anchor="end" font-weight="bold" >10</text>
<text stroke="#000" stroke-width="0.35" x="52.20" y="549.81" font-size="9.8" text-anchor="end" font-weight="bold" >8</text>
<text stroke="#000" stroke-width="0.35" x="46.95" y="553.21" font-size="12.8" text-anchor="end" font-weight="bold" >10</text>
<line x1="56.70" y1="410.80" x2="245.00" y2="410.80" stroke-width="1.7" stroke-dasharray="1.7 1.7"/>
<line x1="56.70" y1="593.00" x2="245.00" y2="593.00" stroke-width="1.7" stroke-dasharray="1.7 1.7"/>
<text stroke="#000" stroke-width="0.35" x="56.20" y="711.50" font-size="12.6" text-anchor="middle" font-weight="bold" >0</text>
<text stroke="#000" stroke-width="0.35" x="77.38" y="711.50" font-size="12.6" text-anchor="middle" font-weight="bold" >2</text>
<text stroke="#000" stroke-width="0.35" x="98.56" y="711.50" font-size="12.6" text-anchor="middle" font-weight="bold" >4</text>
<text stroke="#000" stroke-width="0.35" x="119.74" y="711.50" font-size="12.6" text-anchor="middle" font-weight="bold" >6</text>
<text stroke="#000" stroke-width="0.35" x="140.92" y="711.50" font-size="12.6" text-anchor="middle" font-weight="bold" >8</text>
<text stroke="#000" stroke-width="0.35" x="162.10" y="711.50" font-size="12.6" text-anchor="middle" font-weight="bold" >10</text>
<text stroke="#000" stroke-width="0.35" x="183.28" y="711.50" font-size="12.6" text-anchor="middle" font-weight="bold" >12</text>
<text stroke="#000" stroke-width="0.35" x="204.46" y="711.50" font-size="12.6" text-anchor="middle" font-weight="bold" >14</text>
<text stroke="#000" stroke-width="0.35" x="225.64" y="711.50" font-size="12.6" text-anchor="middle" font-weight="bold" >16</text>
<text stroke="#000" stroke-width="0.35" x="246.82" y="711.50" font-size="12.6" text-anchor="middle" font-weight="bold" >18</text>
<rect x="321.50" y="365.80" width="190.00" height="330.00" fill="none" stroke-width="1.5"/>
<line x1="321.50" y1="530.40" x2="511.50" y2="530.40" stroke-width="1.5" />
<line x1="331.87" y1="530.40" x2="331.87" y2="528.30" stroke-width="1.1" />
<line x1="342.44" y1="530.40" x2="342.44" y2="526.60" stroke-width="1.1" />
<line x1="353.01" y1="530.40" x2="353.01" y2="528.30" stroke-width="1.1" />
<line x1="363.58" y1="530.40" x2="363.58" y2="526.60" stroke-width="1.1" />
<line x1="374.15" y1="530.40" x2="374.15" y2="528.30" stroke-width="1.1" />
<line x1="384.72" y1="530.40" x2="384.72" y2="526.60" stroke-width="1.1" />
<line x1="395.29" y1="530.40" x2="395.29" y2="528.30" stroke-width="1.1" />
<line x1="405.86" y1="530.40" x2="405.86" y2="526.60" stroke-width="1.1" />
<line x1="416.43" y1="530.40" x2="416.43" y2="528.30" stroke-width="1.1" />
<line x1="427.00" y1="530.40" x2="427.00" y2="526.60" stroke-width="1.1" />
<line x1="437.57" y1="530.40" x2="437.57" y2="528.30" stroke-width="1.1" />
<line x1="448.14" y1="530.40" x2="448.14" y2="526.60" stroke-width="1.1" />
<line x1="458.71" y1="530.40" x2="458.71" y2="528.30" stroke-width="1.1" />
<line x1="469.28" y1="530.40" x2="469.28" y2="526.60" stroke-width="1.1" />
<line x1="479.85" y1="530.40" x2="479.85" y2="528.30" stroke-width="1.1" />
<line x1="490.42" y1="530.40" x2="490.42" y2="526.60" stroke-width="1.1" />
<line x1="500.99" y1="530.40" x2="500.99" y2="528.30" stroke-width="1.1" />
<line x1="321.30" y1="695.80" x2="321.30" y2="699.40" stroke-width="1.1" />
<line x1="331.87" y1="695.80" x2="331.87" y2="698.40" stroke-width="1.1" />
<line x1="342.44" y1="695.80" x2="342.44" y2="699.40" stroke-width="1.1" />
<line x1="353.01" y1="695.80" x2="353.01" y2="698.40" stroke-width="1.1" />
<line x1="363.58" y1="695.80" x2="363.58" y2="699.40" stroke-width="1.1" />
<line x1="374.15" y1="695.80" x2="374.15" y2="698.40" stroke-width="1.1" />
<line x1="384.72" y1="695.80" x2="384.72" y2="699.40" stroke-width="1.1" />
<line x1="395.29" y1="695.80" x2="395.29" y2="698.40" stroke-width="1.1" />
<line x1="405.86" y1="695.80" x2="405.86" y2="699.40" stroke-width="1.1" />
<line x1="416.43" y1="695.80" x2="416.43" y2="698.40" stroke-width="1.1" />
<line x1="427.00" y1="695.80" x2="427.00" y2="699.40" stroke-width="1.1" />
<line x1="437.57" y1="695.80" x2="437.57" y2="698.40" stroke-width="1.1" />
<line x1="448.14" y1="695.80" x2="448.14" y2="699.40" stroke-width="1.1" />
<line x1="458.71" y1="695.80" x2="458.71" y2="698.40" stroke-width="1.1" />
<line x1="469.28" y1="695.80" x2="469.28" y2="699.40" stroke-width="1.1" />
<line x1="479.85" y1="695.80" x2="479.85" y2="698.40" stroke-width="1.1" />
<line x1="490.42" y1="695.80" x2="490.42" y2="699.40" stroke-width="1.1" />
<line x1="500.99" y1="695.80" x2="500.99" y2="698.40" stroke-width="1.1" />
<line x1="511.56" y1="695.80" x2="511.56" y2="699.40" stroke-width="1.1" />
<line x1="318.70" y1="516.70" x2="321.50" y2="516.70" stroke-width="1.1" />
<line x1="318.70" y1="489.30" x2="321.50" y2="489.30" stroke-width="1.1" />
<line x1="318.70" y1="461.90" x2="321.50" y2="461.90" stroke-width="1.1" />
<line x1="318.70" y1="434.50" x2="321.50" y2="434.50" stroke-width="1.1" />
<line x1="318.70" y1="407.10" x2="321.50" y2="407.10" stroke-width="1.1" />
<line x1="318.70" y1="379.70" x2="321.50" y2="379.70" stroke-width="1.1" />
<line x1="319.70" y1="530.40" x2="321.50" y2="530.40" stroke-width="1.0" />
<line x1="319.70" y1="503.00" x2="321.50" y2="503.00" stroke-width="1.0" />
<line x1="319.70" y1="475.60" x2="321.50" y2="475.60" stroke-width="1.0" />
<line x1="319.70" y1="448.20" x2="321.50" y2="448.20" stroke-width="1.0" />
<line x1="319.70" y1="420.80" x2="321.50" y2="420.80" stroke-width="1.0" />
<line x1="319.70" y1="393.40" x2="321.50" y2="393.40" stroke-width="1.0" />
<line x1="318.70" y1="695.20" x2="321.50" y2="695.20" stroke-width="1.1" />
<line x1="318.70" y1="665.20" x2="321.50" y2="665.20" stroke-width="1.1" />
<line x1="318.70" y1="635.20" x2="321.50" y2="635.20" stroke-width="1.1" />
<line x1="318.70" y1="605.20" x2="321.50" y2="605.20" stroke-width="1.1" />
<line x1="318.70" y1="575.20" x2="321.50" y2="575.20" stroke-width="1.1" />
<line x1="318.70" y1="545.20" x2="321.50" y2="545.20" stroke-width="1.1" />
<line x1="319.70" y1="680.20" x2="321.50" y2="680.20" stroke-width="1.0" />
<line x1="319.70" y1="650.20" x2="321.50" y2="650.20" stroke-width="1.0" />
<line x1="319.70" y1="620.20" x2="321.50" y2="620.20" stroke-width="1.0" />
<line x1="319.70" y1="590.20" x2="321.50" y2="590.20" stroke-width="1.0" />
<line x1="319.70" y1="560.20" x2="321.50" y2="560.20" stroke-width="1.0" />
<text stroke="#000" stroke-width="0.35" x="317.50" y="520.84" font-size="12.9" text-anchor="end" font-weight="bold" >0</text>
<text stroke="#000" stroke-width="0.35" x="317.50" y="493.44" font-size="12.9" text-anchor="end" font-weight="bold" >4</text>
<text stroke="#000" stroke-width="0.35" x="317.50" y="466.04" font-size="12.9" text-anchor="end" font-weight="bold" >8</text>
<text stroke="#000" stroke-width="0.35" x="317.50" y="438.64" font-size="12.9" text-anchor="end" font-weight="bold" >12</text>
<text stroke="#000" stroke-width="0.35" x="317.50" y="411.24" font-size="12.9" text-anchor="end" font-weight="bold" >16</text>
<text stroke="#000" stroke-width="0.35" x="317.50" y="383.84" font-size="12.9" text-anchor="end" font-weight="bold" >20</text>
<text stroke="#000" stroke-width="0.35" x="317.50" y="699.34" font-size="12.9" text-anchor="end" font-weight="bold" >0.0</text>
<text stroke="#000" stroke-width="0.35" x="317.50" y="669.34" font-size="12.9" text-anchor="end" font-weight="bold" >0.5</text>
<text stroke="#000" stroke-width="0.35" x="317.50" y="639.34" font-size="12.9" text-anchor="end" font-weight="bold" >1.0</text>
<text stroke="#000" stroke-width="0.35" x="317.50" y="609.34" font-size="12.9" text-anchor="end" font-weight="bold" >1.5</text>
<text stroke="#000" stroke-width="0.35" x="317.50" y="579.34" font-size="12.9" text-anchor="end" font-weight="bold" >2.0</text>
<text stroke="#000" stroke-width="0.35" x="317.50" y="549.34" font-size="12.9" text-anchor="end" font-weight="bold" >2.5</text>
<text stroke="#000" stroke-width="0.35" x="321.50" y="711.50" font-size="12.6" text-anchor="middle" font-weight="bold" >0</text>
<text stroke="#000" stroke-width="0.35" x="342.64" y="711.50" font-size="12.6" text-anchor="middle" font-weight="bold" >2</text>
<text stroke="#000" stroke-width="0.35" x="363.78" y="711.50" font-size="12.6" text-anchor="middle" font-weight="bold" >4</text>
<text stroke="#000" stroke-width="0.35" x="384.92" y="711.50" font-size="12.6" text-anchor="middle" font-weight="bold" >6</text>
<text stroke="#000" stroke-width="0.35" x="406.06" y="711.50" font-size="12.6" text-anchor="middle" font-weight="bold" >8</text>
<text stroke="#000" stroke-width="0.35" x="427.20" y="711.50" font-size="12.6" text-anchor="middle" font-weight="bold" >10</text>
<text stroke="#000" stroke-width="0.35" x="448.34" y="711.50" font-size="12.6" text-anchor="middle" font-weight="bold" >12</text>
<text stroke="#000" stroke-width="0.35" x="469.48" y="711.50" font-size="12.6" text-anchor="middle" font-weight="bold" >14</text>
<text stroke="#000" stroke-width="0.35" x="490.62" y="711.50" font-size="12.6" text-anchor="middle" font-weight="bold" >16</text>
<text stroke="#000" stroke-width="0.35" x="511.76" y="711.50" font-size="12.6" text-anchor="middle" font-weight="bold" >18</text>
<line x1="60.60" y1="130.00" x2="60.60" y2="158.50" stroke-width="1.9" />
<line x1="56.50" y1="130.00" x2="64.70" y2="130.00" stroke-width="1.75" />
<line x1="56.50" y1="158.50" x2="64.70" y2="158.50" stroke-width="1.75" />
<line x1="77.30" y1="98.80" x2="77.30" y2="119.00" stroke-width="1.9" />
<line x1="73.20" y1="98.80" x2="81.40" y2="98.80" stroke-width="1.75" />
<line x1="73.20" y1="119.00" x2="81.40" y2="119.00" stroke-width="1.75" />
<line x1="109.30" y1="69.60" x2="109.30" y2="73.80" stroke-width="1.9" />
<line x1="105.20" y1="69.60" x2="113.40" y2="69.60" stroke-width="1.75" />
<line x1="105.20" y1="73.80" x2="113.40" y2="73.80" stroke-width="1.75" />
<line x1="130.60" y1="59.60" x2="130.60" y2="63.50" stroke-width="1.9" />
<line x1="126.50" y1="59.60" x2="134.70" y2="59.60" stroke-width="1.75" />
<line x1="126.50" y1="63.50" x2="134.70" y2="63.50" stroke-width="1.75" />
<line x1="162.10" y1="44.00" x2="162.10" y2="55.40" stroke-width="1.9" />
<line x1="158.00" y1="44.00" x2="166.20" y2="44.00" stroke-width="1.75" />
<line x1="158.00" y1="55.40" x2="166.20" y2="55.40" stroke-width="1.75" />
<line x1="225.60" y1="69.90" x2="225.60" y2="87.80" stroke-width="1.9" />
<line x1="221.50" y1="69.90" x2="229.70" y2="69.90" stroke-width="1.75" />
<line x1="221.50" y1="87.80" x2="229.70" y2="87.80" stroke-width="1.75" />
<polyline points="60.60,142.60 77.30,106.10 109.30,71.70 130.60,61.20 162.10,49.20 225.60,74.00" fill="none" stroke-width="2.0" stroke-linejoin="round"/>
<ellipse cx="60.60" cy="142.60" rx="2.1" ry="2.8" fill="#fff" stroke-width="1.3"/>
<ellipse cx="77.30" cy="106.10" rx="2.1" ry="2.8" fill="#fff" stroke-width="1.3"/>
<ellipse cx="109.30" cy="71.70" rx="2.1" ry="2.8" fill="#fff" stroke-width="1.3"/>
<ellipse cx="130.60" cy="61.20" rx="2.1" ry="2.8" fill="#fff" stroke-width="1.3"/>
<ellipse cx="162.10" cy="49.20" rx="2.1" ry="2.8" fill="#fff" stroke-width="1.3"/>
<ellipse cx="225.60" cy="74.00" rx="2.1" ry="2.8" fill="#fff" stroke-width="1.3"/>
<line x1="60.50" y1="100.00" x2="60.50" y2="125.50" stroke-width="1.9" />
<line x1="56.40" y1="100.00" x2="64.60" y2="100.00" stroke-width="1.75" />
<line x1="56.40" y1="125.50" x2="64.60" y2="125.50" stroke-width="1.75" />
<line x1="77.30" y1="85.00" x2="77.30" y2="95.50" stroke-width="1.9" />
<line x1="73.20" y1="85.00" x2="81.40" y2="85.00" stroke-width="1.75" />
<line x1="73.20" y1="95.50" x2="81.40" y2="95.50" stroke-width="1.75" />
<line x1="98.30" y1="48.80" x2="98.30" y2="73.70" stroke-width="1.9" />
<line x1="94.20" y1="48.80" x2="102.40" y2="48.80" stroke-width="1.75" />
<line x1="94.20" y1="73.70" x2="102.40" y2="73.70" stroke-width="1.75" />
<line x1="109.50" y1="35.60" x2="109.50" y2="41.30" stroke-width="1.9" />
<line x1="105.40" y1="35.60" x2="113.60" y2="35.60" stroke-width="1.75" />
<line x1="105.40" y1="41.30" x2="113.60" y2="41.30" stroke-width="1.75" />
<line x1="130.60" y1="28.90" x2="130.60" y2="40.50" stroke-width="1.9" />
<line x1="126.50" y1="28.90" x2="134.70" y2="28.90" stroke-width="1.75" />
<line x1="126.50" y1="40.50" x2="134.70" y2="40.50" stroke-width="1.75" />
<line x1="162.10" y1="24.70" x2="162.10" y2="35.20" stroke-width="1.9" />
<line x1="158.00" y1="24.70" x2="166.20" y2="24.70" stroke-width="1.75" />
<line x1="158.00" y1="35.20" x2="166.20" y2="35.20" stroke-width="1.75" />
<line x1="225.60" y1="67.20" x2="225.60" y2="77.90" stroke-width="1.9" />
<line x1="221.50" y1="67.20" x2="229.70" y2="67.20" stroke-width="1.75" />
<line x1="221.50" y1="77.90" x2="229.70" y2="77.90" stroke-width="1.75" />
<polyline points="60.50,108.00 77.30,89.00 98.30,56.00 109.50,38.80 130.60,33.50 162.10,29.40 225.60,73.30" fill="none" stroke-width="2.0" stroke-linejoin="round"/>
<ellipse cx="60.50" cy="108.00" rx="2.35" ry="3.05" fill="#000" stroke-width="1.0"/>
<ellipse cx="77.30" cy="89.00" rx="2.35" ry="3.05" fill="#000" stroke-width="1.0"/>
<ellipse cx="98.30" cy="56.00" rx="2.35" ry="3.05" fill="#000" stroke-width="1.0"/>
<ellipse cx="109.50" cy="38.80" rx="2.35" ry="3.05" fill="#000" stroke-width="1.0"/>
<ellipse cx="130.60" cy="33.50" rx="2.35" ry="3.05" fill="#000" stroke-width="1.0"/>
<ellipse cx="162.10" cy="29.40" rx="2.35" ry="3.05" fill="#000" stroke-width="1.0"/>
<ellipse cx="225.60" cy="73.30" rx="2.35" ry="3.05" fill="#000" stroke-width="1.0"/>
<line x1="60.80" y1="297.40" x2="60.80" y2="328.80" stroke-width="1.9" />
<line x1="56.70" y1="297.40" x2="64.90" y2="297.40" stroke-width="1.75" />
<line x1="56.70" y1="328.80" x2="64.90" y2="328.80" stroke-width="1.75" />
<line x1="77.40" y1="292.30" x2="77.40" y2="311.20" stroke-width="1.9" />
<line x1="73.30" y1="292.30" x2="81.50" y2="292.30" stroke-width="1.75" />
<line x1="73.30" y1="311.20" x2="81.50" y2="311.20" stroke-width="1.75" />
<line x1="98.80" y1="237.60" x2="98.80" y2="265.30" stroke-width="1.9" />
<line x1="94.70" y1="237.60" x2="102.90" y2="237.60" stroke-width="1.75" />
<line x1="94.70" y1="265.30" x2="102.90" y2="265.30" stroke-width="1.75" />
<line x1="109.70" y1="222.60" x2="109.70" y2="272.70" stroke-width="1.9" />
<line x1="105.60" y1="222.60" x2="113.80" y2="222.60" stroke-width="1.75" />
<line x1="105.60" y1="272.70" x2="113.80" y2="272.70" stroke-width="1.75" />
<line x1="162.00" y1="253.10" x2="162.00" y2="285.10" stroke-width="1.9" />
<line x1="157.90" y1="253.10" x2="166.10" y2="253.10" stroke-width="1.75" />
<line x1="157.90" y1="285.10" x2="166.10" y2="285.10" stroke-width="1.75" />
<line x1="226.00" y1="276.70" x2="226.00" y2="305.40" stroke-width="1.9" />
<line x1="221.90" y1="276.70" x2="230.10" y2="276.70" stroke-width="1.75" />
<line x1="221.90" y1="305.40" x2="230.10" y2="305.40" stroke-width="1.75" />
<polyline points="60.80,307.80 77.40,299.70 98.80,246.80 109.70,234.20 162.00,266.50 226.00,290.00" fill="none" stroke-width="2.0" stroke-linejoin="round"/>
<rect x="58.10" y="304.75" width="5.4" height="6.1" fill="#000" stroke-width="0.6"/>
<rect x="74.70" y="296.65" width="5.4" height="6.1" fill="#000" stroke-width="0.6"/>
<rect x="96.10" y="243.75" width="5.4" height="6.1" fill="#000" stroke-width="0.6"/>
<rect x="107.00" y="231.15" width="5.4" height="6.1" fill="#000" stroke-width="0.6"/>
<rect x="159.30" y="263.45" width="5.4" height="6.1" fill="#000" stroke-width="0.6"/>
<rect x="223.30" y="286.95" width="5.4" height="6.1" fill="#000" stroke-width="0.6"/>
<line x1="326.60" y1="133.90" x2="326.60" y2="145.80" stroke-width="1.9" />
<line x1="322.50" y1="133.90" x2="330.70" y2="133.90" stroke-width="1.75" />
<line x1="322.50" y1="145.80" x2="330.70" y2="145.80" stroke-width="1.75" />
<line x1="343.10" y1="49.30" x2="343.10" y2="63.20" stroke-width="1.9" />
<line x1="339.00" y1="49.30" x2="347.20" y2="49.30" stroke-width="1.75" />
<line x1="339.00" y1="63.20" x2="347.20" y2="63.20" stroke-width="1.75" />
<line x1="364.50" y1="46.10" x2="364.50" y2="55.30" stroke-width="1.9" />
<line x1="360.40" y1="46.10" x2="368.60" y2="46.10" stroke-width="1.75" />
<line x1="360.40" y1="55.30" x2="368.60" y2="55.30" stroke-width="1.75" />
<line x1="375.20" y1="16.10" x2="375.20" y2="40.80" stroke-width="1.9" />
<line x1="371.10" y1="16.10" x2="379.30" y2="16.10" stroke-width="1.75" />
<line x1="371.10" y1="40.80" x2="379.30" y2="40.80" stroke-width="1.75" />
<line x1="396.60" y1="16.10" x2="396.60" y2="37.30" stroke-width="1.9" />
<line x1="392.50" y1="16.10" x2="400.70" y2="16.10" stroke-width="1.75" />
<line x1="392.50" y1="37.30" x2="400.70" y2="37.30" stroke-width="1.75" />
<line x1="427.60" y1="25.30" x2="427.60" y2="40.10" stroke-width="1.9" />
<line x1="423.50" y1="25.30" x2="431.70" y2="25.30" stroke-width="1.75" />
<line x1="423.50" y1="40.10" x2="431.70" y2="40.10" stroke-width="1.75" />
<line x1="491.40" y1="86.30" x2="491.40" y2="111.00" stroke-width="1.9" />
<line x1="487.30" y1="86.30" x2="495.50" y2="86.30" stroke-width="1.75" />
<line x1="487.30" y1="111.00" x2="495.50" y2="111.00" stroke-width="1.75" />
<polyline points="326.60,138.90 343.10,54.60 364.50,50.00 375.20,23.90 396.60,23.50 427.60,30.80 491.40,94.60" fill="none" stroke-width="2.0" stroke-linejoin="round"/>
<ellipse cx="326.60" cy="138.90" rx="2.35" ry="3.05" fill="#000" stroke-width="1.0"/>
<ellipse cx="343.10" cy="54.60" rx="2.35" ry="3.05" fill="#000" stroke-width="1.0"/>
<ellipse cx="364.50" cy="50.00" rx="2.35" ry="3.05" fill="#000" stroke-width="1.0"/>
<ellipse cx="375.20" cy="23.90" rx="2.35" ry="3.05" fill="#000" stroke-width="1.0"/>
<ellipse cx="396.60" cy="23.50" rx="2.35" ry="3.05" fill="#000" stroke-width="1.0"/>
<ellipse cx="427.60" cy="30.80" rx="2.35" ry="3.05" fill="#000" stroke-width="1.0"/>
<ellipse cx="491.40" cy="94.60" rx="2.35" ry="3.05" fill="#000" stroke-width="1.0"/>
<line x1="326.90" y1="300.40" x2="326.90" y2="314.70" stroke-width="1.9" />
<line x1="322.80" y1="300.40" x2="331.00" y2="300.40" stroke-width="1.75" />
<line x1="322.80" y1="314.70" x2="331.00" y2="314.70" stroke-width="1.75" />
<line x1="343.10" y1="241.10" x2="343.10" y2="252.60" stroke-width="1.9" />
<line x1="339.00" y1="241.10" x2="347.20" y2="241.10" stroke-width="1.75" />
<line x1="339.00" y1="252.60" x2="347.20" y2="252.60" stroke-width="1.75" />
<line x1="364.50" y1="249.20" x2="364.50" y2="259.50" stroke-width="1.9" />
<line x1="360.40" y1="249.20" x2="368.60" y2="249.20" stroke-width="1.75" />
<line x1="360.40" y1="259.50" x2="368.60" y2="259.50" stroke-width="1.75" />
<line x1="374.90" y1="206.90" x2="374.90" y2="221.20" stroke-width="1.9" />
<line x1="370.80" y1="206.90" x2="379.00" y2="206.90" stroke-width="1.75" />
<line x1="370.80" y1="221.20" x2="379.00" y2="221.20" stroke-width="1.75" />
<line x1="396.20" y1="228.80" x2="396.20" y2="242.00" stroke-width="1.9" />
<line x1="392.10" y1="228.80" x2="400.30" y2="228.80" stroke-width="1.75" />
<line x1="392.10" y1="242.00" x2="400.30" y2="242.00" stroke-width="1.75" />
<line x1="428.00" y1="214.60" x2="428.00" y2="234.00" stroke-width="1.9" />
<line x1="423.90" y1="214.60" x2="432.10" y2="214.60" stroke-width="1.75" />
<line x1="423.90" y1="234.00" x2="432.10" y2="234.00" stroke-width="1.75" />
<line x1="491.50" y1="261.30" x2="491.50" y2="280.80" stroke-width="1.9" />
<line x1="487.40" y1="261.30" x2="495.60" y2="261.30" stroke-width="1.75" />
<line x1="487.40" y1="280.80" x2="495.60" y2="280.80" stroke-width="1.75" />
<polyline points="326.90,305.00 343.10,245.00 364.50,253.50 374.90,212.20 396.20,233.00 428.00,220.10 491.50,267.40" fill="none" stroke-width="2.0" stroke-linejoin="round"/>
<rect x="324.20" y="301.95" width="5.4" height="6.1" fill="#000" stroke-width="0.6"/>
<rect x="340.40" y="241.95" width="5.4" height="6.1" fill="#000" stroke-width="0.6"/>
<rect x="361.80" y="250.45" width="5.4" height="6.1" fill="#000" stroke-width="0.6"/>
<rect x="372.20" y="209.15" width="5.4" height="6.1" fill="#000" stroke-width="0.6"/>
<rect x="393.50" y="229.95" width="5.4" height="6.1" fill="#000" stroke-width="0.6"/>
<rect x="425.30" y="217.05" width="5.4" height="6.1" fill="#000" stroke-width="0.6"/>
<rect x="488.80" y="264.35" width="5.4" height="6.1" fill="#000" stroke-width="0.6"/>
<line x1="60.50" y1="501.10" x2="60.50" y2="514.90" stroke-width="1.9" />
<line x1="56.40" y1="501.10" x2="64.60" y2="501.10" stroke-width="1.75" />
<line x1="56.40" y1="514.90" x2="64.60" y2="514.90" stroke-width="1.75" />
<line x1="77.00" y1="471.00" x2="77.00" y2="478.10" stroke-width="1.9" />
<line x1="72.90" y1="471.00" x2="81.10" y2="471.00" stroke-width="1.75" />
<line x1="72.90" y1="478.10" x2="81.10" y2="478.10" stroke-width="1.75" />
<line x1="108.80" y1="446.00" x2="108.80" y2="450.50" stroke-width="1.9" />
<line x1="104.70" y1="446.00" x2="112.90" y2="446.00" stroke-width="1.75" />
<line x1="104.70" y1="450.50" x2="112.90" y2="450.50" stroke-width="1.75" />
<line x1="129.50" y1="437.70" x2="129.50" y2="446.20" stroke-width="1.9" />
<line x1="125.40" y1="437.70" x2="133.60" y2="437.70" stroke-width="1.75" />
<line x1="125.40" y1="446.20" x2="133.60" y2="446.20" stroke-width="1.75" />
<line x1="161.90" y1="408.00" x2="161.90" y2="414.00" stroke-width="1.9" />
<line x1="157.80" y1="408.00" x2="166.00" y2="408.00" stroke-width="1.75" />
<line x1="157.80" y1="414.00" x2="166.00" y2="414.00" stroke-width="1.75" />
<line x1="225.20" y1="424.10" x2="225.20" y2="450.00" stroke-width="1.9" />
<line x1="221.10" y1="424.10" x2="229.30" y2="424.10" stroke-width="1.75" />
<line x1="221.10" y1="450.00" x2="229.30" y2="450.00" stroke-width="1.75" />
<polyline points="60.50,505.50 77.00,474.60 108.80,448.10 129.50,441.20 161.90,412.50 225.20,431.60" fill="none" stroke-width="2.0" stroke-linejoin="round"/>
<polygon points="60.50,501.50 63.60,507.70 57.40,507.70" fill="#fff" stroke-width="1.3" stroke-linejoin="miter"/>
<polygon points="77.00,470.60 80.10,476.80 73.90,476.80" fill="#fff" stroke-width="1.3" stroke-linejoin="miter"/>
<polygon points="108.80,444.10 111.90,450.30 105.70,450.30" fill="#fff" stroke-width="1.3" stroke-linejoin="miter"/>
<polygon points="129.50,437.20 132.60,443.40 126.40,443.40" fill="#fff" stroke-width="1.3" stroke-linejoin="miter"/>
<polygon points="161.90,408.50 165.00,414.70 158.80,414.70" fill="#fff" stroke-width="1.3" stroke-linejoin="miter"/>
<polygon points="225.20,427.60 228.30,433.80 222.10,433.80" fill="#fff" stroke-width="1.3" stroke-linejoin="miter"/>
<line x1="60.50" y1="480.10" x2="60.50" y2="492.70" stroke-width="1.9" />
<line x1="56.40" y1="480.10" x2="64.60" y2="480.10" stroke-width="1.75" />
<line x1="56.40" y1="492.70" x2="64.60" y2="492.70" stroke-width="1.75" />
<line x1="77.00" y1="453.50" x2="77.00" y2="462.20" stroke-width="1.9" />
<line x1="72.90" y1="453.50" x2="81.10" y2="453.50" stroke-width="1.75" />
<line x1="72.90" y1="462.20" x2="81.10" y2="462.20" stroke-width="1.75" />
<line x1="98.20" y1="433.10" x2="98.20" y2="445.30" stroke-width="1.9" />
<line x1="94.10" y1="433.10" x2="102.30" y2="433.10" stroke-width="1.75" />
<line x1="94.10" y1="445.30" x2="102.30" y2="445.30" stroke-width="1.75" />
<line x1="108.80" y1="421.50" x2="108.80" y2="429.60" stroke-width="1.9" />
<line x1="104.70" y1="421.50" x2="112.90" y2="421.50" stroke-width="1.75" />
<line x1="104.70" y1="429.60" x2="112.90" y2="429.60" stroke-width="1.75" />
<line x1="129.50" y1="416.00" x2="129.50" y2="420.50" stroke-width="1.9" />
<line x1="125.40" y1="416.00" x2="133.60" y2="416.00" stroke-width="1.75" />
<line x1="125.40" y1="420.50" x2="133.60" y2="420.50" stroke-width="1.75" />
<line x1="161.90" y1="405.70" x2="161.90" y2="415.50" stroke-width="1.9" />
<line x1="157.80" y1="405.70" x2="166.00" y2="405.70" stroke-width="1.75" />
<line x1="157.80" y1="415.50" x2="166.00" y2="415.50" stroke-width="1.75" />
<line x1="225.20" y1="438.50" x2="225.20" y2="454.60" stroke-width="1.9" />
<line x1="221.10" y1="438.50" x2="229.30" y2="438.50" stroke-width="1.75" />
<line x1="221.10" y1="454.60" x2="229.30" y2="454.60" stroke-width="1.75" />
<polyline points="60.50,484.30 77.00,457.20 98.20,438.40 108.80,425.70 129.50,418.10 161.90,410.30 225.20,444.00" fill="none" stroke-width="2.0" stroke-linejoin="round"/>
<polygon points="60.50,480.30 63.60,486.50 57.40,486.50" fill="#000" stroke-width="1.3" stroke-linejoin="miter"/>
<polygon points="77.00,453.20 80.10,459.40 73.90,459.40" fill="#000" stroke-width="1.3" stroke-linejoin="miter"/>
<polygon points="98.20,434.40 101.30,440.60 95.10,440.60" fill="#000" stroke-width="1.3" stroke-linejoin="miter"/>
<polygon points="108.80,421.70 111.90,427.90 105.70,427.90" fill="#000" stroke-width="1.3" stroke-linejoin="miter"/>
<polygon points="129.50,414.10 132.60,420.30 126.40,420.30" fill="#000" stroke-width="1.3" stroke-linejoin="miter"/>
<polygon points="161.90,406.30 165.00,412.50 158.80,412.50" fill="#000" stroke-width="1.3" stroke-linejoin="miter"/>
<polygon points="225.20,440.00 228.30,446.20 222.10,446.20" fill="#000" stroke-width="1.3" stroke-linejoin="miter"/>
<line x1="60.10" y1="658.90" x2="60.10" y2="674.80" stroke-width="1.9" />
<line x1="56.00" y1="658.90" x2="64.20" y2="658.90" stroke-width="1.75" />
<line x1="56.00" y1="674.80" x2="64.20" y2="674.80" stroke-width="1.75" />
<line x1="77.40" y1="658.90" x2="77.40" y2="674.00" stroke-width="1.9" />
<line x1="73.30" y1="658.90" x2="81.50" y2="658.90" stroke-width="1.75" />
<line x1="73.30" y1="674.00" x2="81.50" y2="674.00" stroke-width="1.75" />
<line x1="108.80" y1="625.80" x2="108.80" y2="638.00" stroke-width="1.9" />
<line x1="104.70" y1="625.80" x2="112.90" y2="625.80" stroke-width="1.75" />
<line x1="104.70" y1="638.00" x2="112.90" y2="638.00" stroke-width="1.75" />
<line x1="162.00" y1="566.20" x2="162.00" y2="587.90" stroke-width="1.9" />
<line x1="157.90" y1="566.20" x2="166.10" y2="566.20" stroke-width="1.75" />
<line x1="157.90" y1="587.90" x2="166.10" y2="587.90" stroke-width="1.75" />
<line x1="225.00" y1="624.40" x2="225.00" y2="629.20" stroke-width="1.9" />
<line x1="220.90" y1="624.40" x2="229.10" y2="624.40" stroke-width="1.75" />
<line x1="220.90" y1="629.20" x2="229.10" y2="629.20" stroke-width="1.75" />
<polyline points="60.10,666.50 77.40,666.50 108.80,631.50 162.00,573.50 225.00,632.00" fill="none" stroke-width="2.0" stroke-linejoin="round"/>
<polygon points="60.10,670.20 63.30,663.80 56.90,663.80" fill="#fff" stroke-width="1.3" stroke-linejoin="miter"/>
<polygon points="77.40,670.20 80.60,663.80 74.20,663.80" fill="#fff" stroke-width="1.3" stroke-linejoin="miter"/>
<polygon points="108.80,635.20 112.00,628.80 105.60,628.80" fill="#fff" stroke-width="1.3" stroke-linejoin="miter"/>
<polygon points="162.00,577.20 165.20,570.80 158.80,570.80" fill="#fff" stroke-width="1.3" stroke-linejoin="miter"/>
<polygon points="225.00,635.70 228.20,629.30 221.80,629.30" fill="#fff" stroke-width="1.3" stroke-linejoin="miter"/>
<line x1="60.10" y1="674.80" x2="60.10" y2="694.80" stroke-width="1.9" />
<line x1="56.00" y1="674.80" x2="64.20" y2="674.80" stroke-width="1.75" />
<line x1="56.00" y1="694.80" x2="64.20" y2="694.80" stroke-width="1.75" />
<line x1="77.40" y1="672.20" x2="77.40" y2="693.00" stroke-width="1.9" />
<line x1="73.30" y1="672.20" x2="81.50" y2="672.20" stroke-width="1.75" />
<line x1="73.30" y1="693.00" x2="81.50" y2="693.00" stroke-width="1.75" />
<line x1="108.80" y1="599.00" x2="108.80" y2="603.00" stroke-width="1.9" />
<line x1="104.70" y1="599.00" x2="112.90" y2="599.00" stroke-width="1.75" />
<line x1="104.70" y1="603.00" x2="112.90" y2="603.00" stroke-width="1.75" />
<line x1="162.00" y1="566.20" x2="162.00" y2="587.90" stroke-width="1.9" />
<line x1="157.90" y1="566.20" x2="166.10" y2="566.20" stroke-width="1.75" />
<line x1="157.90" y1="587.90" x2="166.10" y2="587.90" stroke-width="1.75" />
<line x1="225.00" y1="629.20" x2="225.00" y2="660.80" stroke-width="1.9" />
<line x1="220.90" y1="629.20" x2="229.10" y2="629.20" stroke-width="1.75" />
<line x1="220.90" y1="660.80" x2="229.10" y2="660.80" stroke-width="1.75" />
<polyline points="60.10,683.50 77.40,679.30 108.80,601.10 162.00,573.50 225.00,634.20" fill="none" stroke-width="2.0" stroke-linejoin="round"/>
<polygon points="60.10,687.20 63.30,680.80 56.90,680.80" fill="#000" stroke-width="1.3" stroke-linejoin="miter"/>
<polygon points="77.40,683.00 80.60,676.60 74.20,676.60" fill="#000" stroke-width="1.3" stroke-linejoin="miter"/>
<polygon points="108.80,604.80 112.00,598.40 105.60,598.40" fill="#000" stroke-width="1.3" stroke-linejoin="miter"/>
<polygon points="162.00,577.20 165.20,570.80 158.80,570.80" fill="#000" stroke-width="1.3" stroke-linejoin="miter"/>
<polygon points="225.00,637.90 228.20,631.50 221.80,631.50" fill="#000" stroke-width="1.3" stroke-linejoin="miter"/>
<line x1="342.60" y1="509.20" x2="342.60" y2="514.50" stroke-width="1.9" />
<line x1="338.50" y1="509.20" x2="346.70" y2="509.20" stroke-width="1.75" />
<line x1="338.50" y1="514.50" x2="346.70" y2="514.50" stroke-width="1.75" />
<line x1="374.20" y1="483.90" x2="374.20" y2="494.20" stroke-width="1.9" />
<line x1="370.10" y1="483.90" x2="378.30" y2="483.90" stroke-width="1.75" />
<line x1="370.10" y1="494.20" x2="378.30" y2="494.20" stroke-width="1.75" />
<line x1="395.20" y1="513.60" x2="395.20" y2="518.60" stroke-width="1.9" />
<line x1="391.10" y1="513.60" x2="399.30" y2="513.60" stroke-width="1.75" />
<line x1="391.10" y1="518.60" x2="399.30" y2="518.60" stroke-width="1.75" />
<line x1="427.00" y1="381.60" x2="427.00" y2="452.00" stroke-width="1.9" />
<line x1="422.90" y1="381.60" x2="431.10" y2="381.60" stroke-width="1.75" />
<line x1="422.90" y1="452.00" x2="431.10" y2="452.00" stroke-width="1.75" />
<line x1="490.80" y1="496.20" x2="490.80" y2="508.70" stroke-width="1.9" />
<line x1="486.70" y1="496.20" x2="494.90" y2="496.20" stroke-width="1.75" />
<line x1="486.70" y1="508.70" x2="494.90" y2="508.70" stroke-width="1.75" />
<polyline points="325.80,516.60 342.60,512.00 374.20,489.60 395.20,516.00 427.00,417.50 490.80,502.50" fill="none" stroke-width="2.0" stroke-linejoin="round"/>
<polygon points="325.80,512.40 329.60,516.60 325.80,520.80 322.00,516.60" fill="#000" stroke-width="0.8"/>
<polygon points="342.60,507.80 346.40,512.00 342.60,516.20 338.80,512.00" fill="#000" stroke-width="0.8"/>
<polygon points="374.20,485.40 378.00,489.60 374.20,493.80 370.40,489.60" fill="#000" stroke-width="0.8"/>
<polygon points="395.20,511.80 399.00,516.00 395.20,520.20 391.40,516.00" fill="#000" stroke-width="0.8"/>
<polygon points="427.00,413.30 430.80,417.50 427.00,421.70 423.20,417.50" fill="#000" stroke-width="0.8"/>
<polygon points="490.80,498.30 494.60,502.50 490.80,506.70 487.00,502.50" fill="#000" stroke-width="0.8"/>
<line x1="325.90" y1="682.30" x2="325.90" y2="691.50" stroke-width="1.9" />
<line x1="321.80" y1="682.30" x2="330.00" y2="682.30" stroke-width="1.75" />
<line x1="321.80" y1="691.50" x2="330.00" y2="691.50" stroke-width="1.75" />
<line x1="342.40" y1="653.90" x2="342.40" y2="686.20" stroke-width="1.9" />
<line x1="338.30" y1="653.90" x2="346.50" y2="653.90" stroke-width="1.75" />
<line x1="338.30" y1="686.20" x2="346.50" y2="686.20" stroke-width="1.75" />
<line x1="374.20" y1="552.40" x2="374.20" y2="610.80" stroke-width="1.9" />
<line x1="370.10" y1="552.40" x2="378.30" y2="552.40" stroke-width="1.75" />
<line x1="370.10" y1="610.80" x2="378.30" y2="610.80" stroke-width="1.75" />
<line x1="395.00" y1="582.60" x2="395.00" y2="664.30" stroke-width="1.9" />
<line x1="390.90" y1="582.60" x2="399.10" y2="582.60" stroke-width="1.75" />
<line x1="390.90" y1="664.30" x2="399.10" y2="664.30" stroke-width="1.75" />
<line x1="427.00" y1="588.20" x2="427.00" y2="644.30" stroke-width="1.9" />
<line x1="422.90" y1="588.20" x2="431.10" y2="588.20" stroke-width="1.75" />
<line x1="422.90" y1="644.30" x2="431.10" y2="644.30" stroke-width="1.75" />
<line x1="490.40" y1="647.70" x2="490.40" y2="689.60" stroke-width="1.9" />
<line x1="486.30" y1="647.70" x2="494.50" y2="647.70" stroke-width="1.75" />
<line x1="486.30" y1="689.60" x2="494.50" y2="689.60" stroke-width="1.75" />
<polyline points="325.90,686.00 342.40,669.70 374.20,581.50 395.00,623.50 427.00,616.40 490.40,668.80" fill="none" stroke-width="2.0" stroke-linejoin="round"/>
<rect x="323.20" y="682.95" width="5.4" height="6.1" fill="#000" stroke-width="0.6"/>
<rect x="339.70" y="666.65" width="5.4" height="6.1" fill="#000" stroke-width="0.6"/>
<rect x="371.50" y="578.45" width="5.4" height="6.1" fill="#000" stroke-width="0.6"/>
<rect x="392.30" y="620.45" width="5.4" height="6.1" fill="#000" stroke-width="0.6"/>
<rect x="424.30" y="613.35" width="5.4" height="6.1" fill="#000" stroke-width="0.6"/>
<rect x="487.70" y="665.75" width="5.4" height="6.1" fill="#000" stroke-width="0.6"/>
<text stroke="#000" stroke-width="0.35" x="62.30" y="23.20" font-size="19.6" text-anchor="start" font-weight="bold" >A</text>
<text stroke="#000" stroke-width="0.35" x="326.90" y="23.20" font-size="19.6" text-anchor="start" font-weight="bold" >B</text>
<text stroke="#000" stroke-width="0.35" x="62.80" y="385.40" font-size="19.6" text-anchor="start" font-weight="bold" >C</text>
<text stroke="#000" stroke-width="0.35" x="329.20" y="384.20" font-size="19.6" text-anchor="start" font-weight="bold" >D</text>
<text stroke="#000" stroke-width="0.35" x="163.20" y="152.70" font-size="12.4" text-anchor="start" font-weight="bold" >CD34</text>
<text stroke="#000" stroke-width="0.35" x="162.80" y="320.00" font-size="12.4" text-anchor="start" font-weight="bold" >CD34Thy-1</text>
<text stroke="#000" stroke-width="0.35" x="430.40" y="155.80" font-size="12.4" text-anchor="start" font-weight="bold" >CFC</text>
<text stroke="#000" stroke-width="0.35" x="429.80" y="321.30" font-size="12.4" text-anchor="start" font-weight="bold" textLength="42.2" lengthAdjust="spacingAndGlyphs">LTC-IC</text>
<text stroke="#000" stroke-width="0.35" x="162.20" y="514.80" font-size="12.4" text-anchor="start" font-weight="bold" textLength="47.5" lengthAdjust="spacingAndGlyphs">CD45/71</text>
<text stroke="#000" stroke-width="0.35" x="162.60" y="677.00" font-size="12.4" text-anchor="start" font-weight="bold" >CD19</text>
<text stroke="#000" stroke-width="0.35" x="428.10" y="515.80" font-size="12.4" text-anchor="start" font-weight="bold" textLength="47.6" lengthAdjust="spacingAndGlyphs">CD45/71</text>
<text stroke="#000" stroke-width="0.35" x="429.00" y="679.00" font-size="12.4" text-anchor="start" font-weight="bold" >CD34</text>
<text stroke="#000" stroke-width="0.35" transform="translate(19.50,167.50) rotate(-90)" x="0" y="0" font-size="21.2" text-anchor="middle" font-weight="bold">No. of Cells</text>
<text stroke="#000" stroke-width="0.35" transform="translate(287.90,165.00) rotate(-90)" x="0" y="0" font-size="21.2" text-anchor="middle" font-weight="bold">No. / 4 Long Bones</text>
<text stroke="#000" stroke-width="0.35" transform="translate(16.40,521.50) rotate(-90)" x="0" y="0" font-size="21.2" text-anchor="middle" font-weight="bold">No. of Cells</text>
<text stroke="#000" stroke-width="0.35" transform="translate(287.30,547.30) rotate(-90)" x="0" y="0" font-size="21.2" text-anchor="middle" font-weight="bold">Percent in Blood</text>
<text stroke="#000" stroke-width="0.35" x="156.00" y="742.90" font-size="21.2" text-anchor="middle" font-weight="bold" textLength="126.4" lengthAdjust="spacingAndGlyphs">Time (Weeks)</text>
<text stroke="#000" stroke-width="0.35" x="403.60" y="744.60" font-size="21.2" text-anchor="middle" font-weight="bold" textLength="126" lengthAdjust="spacingAndGlyphs">Time (Weeks)</text>
</g>
</svg>
</body></html>
